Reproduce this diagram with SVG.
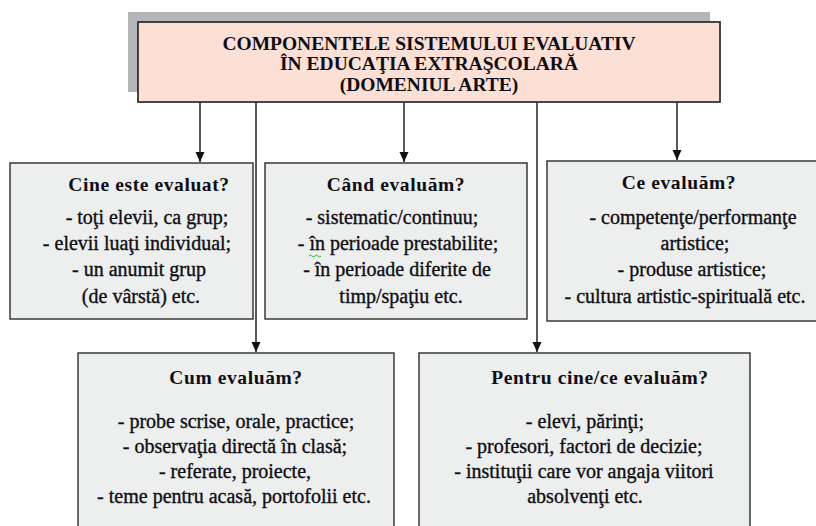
<svg xmlns="http://www.w3.org/2000/svg" width="816" height="526" viewBox="0 0 816 526">
<defs>
<style>
.box{fill:#EDEEEE;stroke:#3A3A3A;stroke-width:1.5}
.ttl{fill:#FDE0D5;stroke:#333333;stroke-width:1.8}
.sh{fill:#B3B5B7}
text{font-family:"Liberation Serif","Times New Roman",serif;fill:#0E0E14;text-anchor:middle}
.tt{font-size:19.5px;font-weight:bold}
.h{font-size:19.5px;font-weight:bold;letter-spacing:0.6px}
.b{font-size:20px;font-weight:normal;stroke:#0E0E14;stroke-width:0.35px}
.c{stroke:#222;stroke-width:1.5;fill:none}
</style>
<marker id="ar" markerUnits="userSpaceOnUse" markerWidth="10" markerHeight="10" refX="10" refY="4.5" orient="auto">
<path d="M0,0 L10,4.5 L0,9 z" fill="#111"/>
</marker>
</defs>
<rect width="816" height="526" fill="#FFFFFF"/>
<g id="connectors">
<path class="c" d="M200,102 V162" marker-end="url(#ar)"/>
<path class="c" d="M256,102 V352" marker-end="url(#ar)"/>
<path class="c" d="M404,102 V162" marker-end="url(#ar)"/>
<path class="c" d="M537,102 V352" marker-end="url(#ar)"/>
<path class="c" d="M677,102 V160" marker-end="url(#ar)"/>
</g>
<g id="title">
<rect class="sh" x="128" y="12" width="582" height="80"/>
<rect class="ttl" x="138" y="22" width="582" height="80"/>
<text class="tt" x="429" y="50">COMPONENTELE SISTEMULUI EVALUATIV</text>
<text class="tt" x="429" y="70">ÎN EDUCAŢIA EXTRAŞCOLARĂ</text>
<text class="tt" x="429" y="91">(DOMENIUL ARTE)</text>
</g>
<g id="cine">
<rect class="box" x="10" y="163" width="243" height="156"/>
<text class="h" x="149" y="191">Cine este evaluat?</text>
<text class="b" x="147" y="224">- toţi elevii, ca grup;</text>
<text class="b" x="137" y="250">- elevii luaţi individual;</text>
<text class="b" x="139" y="276">- un anumit grup</text>
<text class="b" x="141" y="303">(de vârstă) etc.</text>
</g>
<g id="cand">
<rect class="box" x="265" y="163" width="262" height="156"/>
<text class="h" x="396" y="191">Când evaluăm?</text>
<text class="b" x="392" y="224">- sistematic/continuu;</text>
<text class="b" x="398" y="250">- în perioade prestabilite;</text>
<path d="M309,256 q1.5,-2 3,0 t3,0 t3,0 t3,0" stroke="#3BAA3B" stroke-width="1" fill="none"/>
<text class="b" x="397" y="276">- în perioade diferite de</text>
<text class="b" x="401" y="303">timp/spaţiu etc.</text>
</g>
<g id="ce">
<rect class="box" x="547" y="161" width="275" height="160"/>
<text class="h" x="679" y="189">Ce evaluăm?</text>
<text class="b" x="693" y="224">- competenţe/performanţe</text>
<text class="b" x="695" y="250">artistice;</text>
<text class="b" x="692" y="276">- produse artistice;</text>
<text class="b" x="685" y="303">- cultura artistic-spirituală etc.</text>
</g>
<g id="cum">
<rect class="box" x="78" y="353" width="316" height="190"/>
<text class="h" x="236" y="384">Cum evaluăm?</text>
<text class="b" x="236" y="428">- probe scrise, orale, practice;</text>
<text class="b" x="235" y="453">- observaţia directă în clasă;</text>
<text class="b" x="235" y="478">- referate, proiecte,</text>
<text class="b" x="234" y="503">- teme pentru acasă, portofolii etc.</text>
</g>
<g id="pentru">
<rect class="box" x="419" y="353" width="331" height="190"/>
<text class="h" x="600" y="384">Pentru cine/ce evaluăm?</text>
<text class="b" x="585" y="428">- elevi, părinţi;</text>
<text class="b" x="584" y="453">- profesori, factori de decizie;</text>
<text class="b" x="584" y="478">- instituţii care vor angaja viitori</text>
<text class="b" x="585" y="503">absolvenţi etc.</text>
</g>
</svg>
